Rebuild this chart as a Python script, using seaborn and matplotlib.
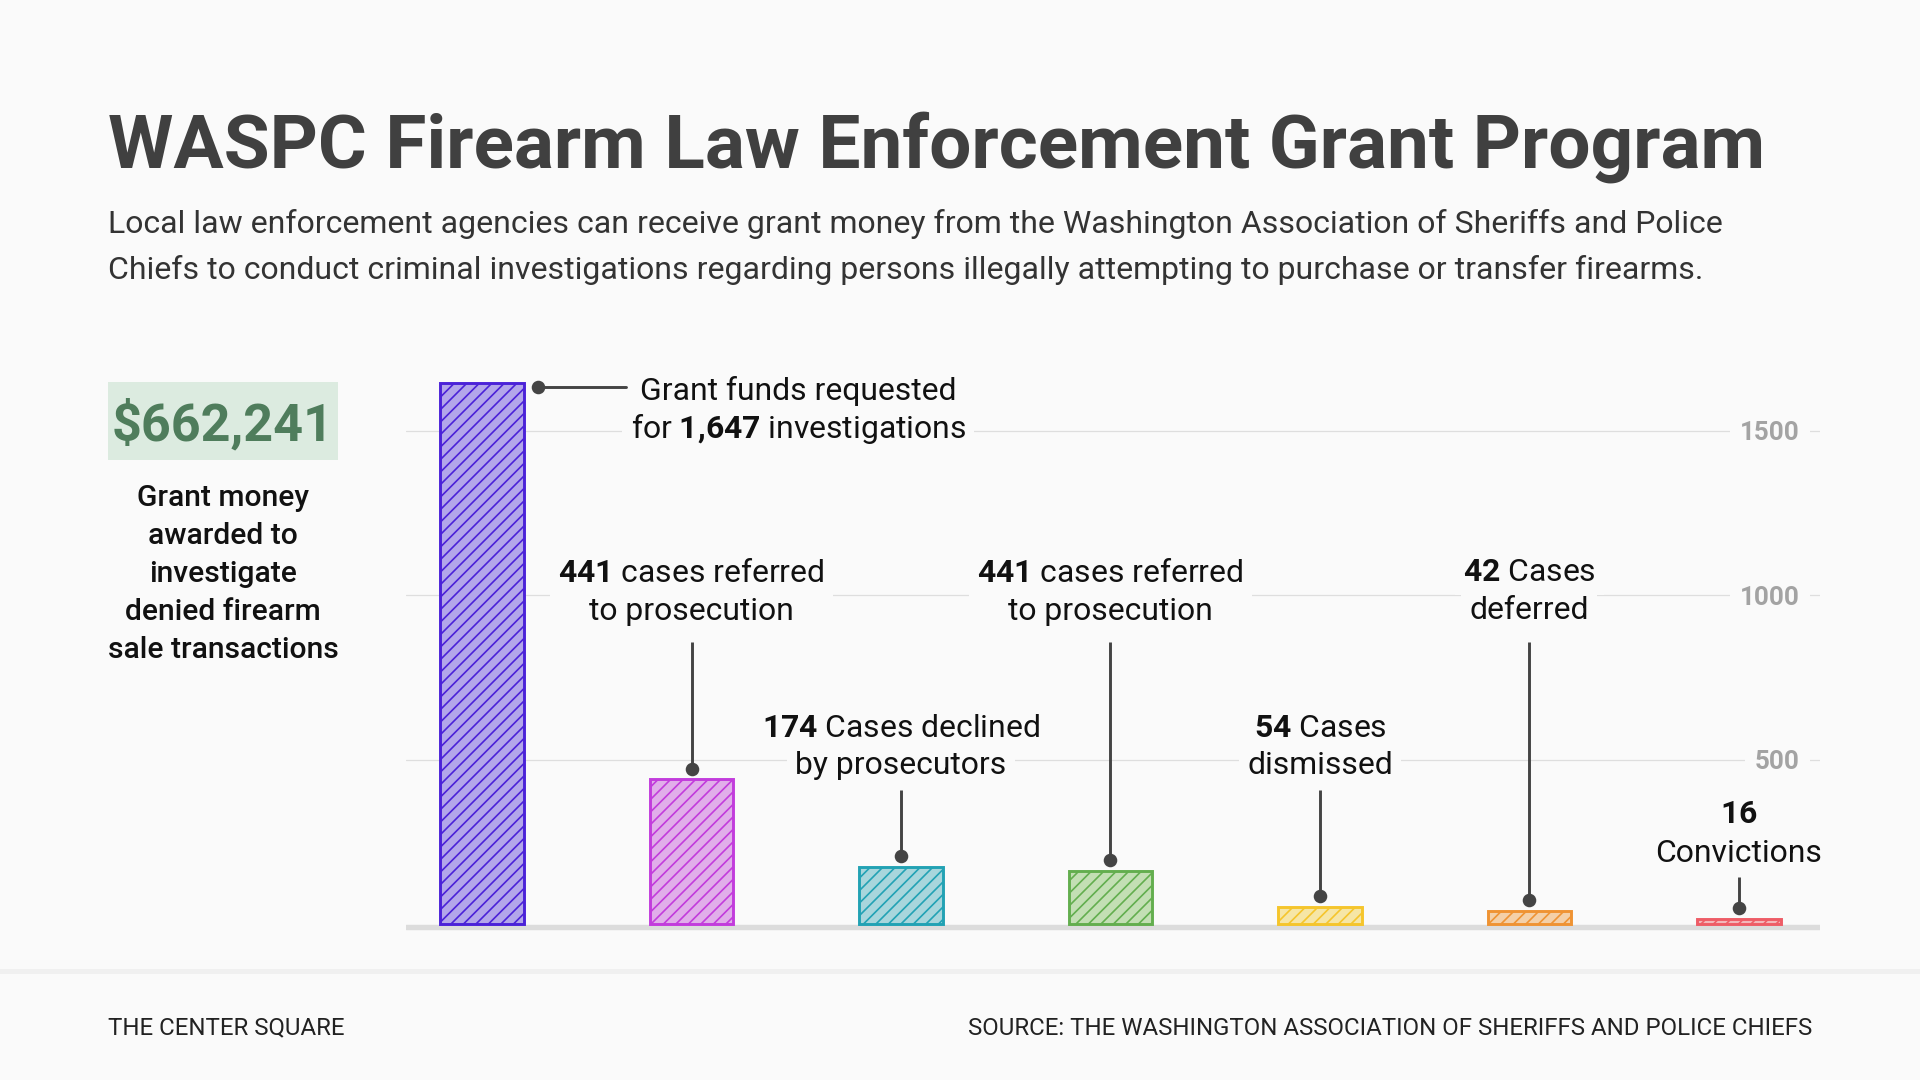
import matplotlib
matplotlib.use("Agg")
import matplotlib.pyplot as plt
from matplotlib.patches import Rectangle
import seaborn as sns

# data
stages = ["Investigations", "Referred", "Declined", "Referred again",
          "Dismissed", "Deferred", "Convictions"]
counts = [1647, 441, 174, 163, 54, 42, 16]

fills = ["#b3a6ea", "#e1aeea", "#a8d6dc", "#c3dfb4", "#f6e6a6", "#f4d0a8", "#f3b7ba"]
edges = ["#4b22d8", "#c23cdc", "#22a2b4", "#63ae4e", "#f5c52c", "#ef9333", "#ee5c66"]

label_top = ["Grant funds requested", r"$\mathbf{441}$ cases referred",
             r"$\mathbf{174}$ Cases declined", r"$\mathbf{441}$ cases referred",
             r"$\mathbf{54}$ Cases", r"$\mathbf{42}$ Cases", r"$\mathbf{16}$"]
label_bottom = [r"for $\mathbf{1{,}647}$ investigations", "to prosecution",
                "by prosecutors", "to prosecution", "dismissed", "deferred",
                "Convictions"]

yticks = [500, 1000, 1500]

# label placement (data units)
label_x = [1.51, 1, 2, 3, 4, 5, 6]
base_top = [1595, 1040, 571, 1040, 571, 1044, 307]
base_bottom = [1479, 925, 456, 925, 456, 928, 191]
leader_top = [None, 860, 409, 860, 409, 860, 145]

bg = "#fafafa"
ink = "#444444"

sns.set_theme(style="white")
plt.rcParams["font.family"] = ["Roboto", "DejaVu Sans"]
plt.rcParams["mathtext.fontset"] = "custom"
plt.rcParams["mathtext.rm"] = "Roboto"
plt.rcParams["mathtext.bf"] = "Roboto:bold"
plt.rcParams["hatch.linewidth"] = 0.8

fig = plt.figure(figsize=(12.8, 7.2), dpi=150, facecolor=bg)
ax = fig.add_axes([406 / 1920, 0.1379, 1414 / 1920, 0.5240])
ax.set_facecolor(bg)

sns.barplot(x=stages, y=counts, hue=stages, palette=fills, width=0.4,
            saturation=1, legend=False, ax=ax, zorder=3)
for cont, ec in zip(ax.containers, edges):
    for bar in cont:
        bar.set_edgecolor(ec)
        bar.set_linewidth(1.4)
        bar.set_hatch("////")

ax.set_xlim(-0.363, 6.387)
ax.set_ylim(-20, 1700)
ax.set_xticks([])
ax.set_yticks(yticks)
ax.set_xlabel("")
ax.set_ylabel("")
for s in ax.spines.values():
    s.set_visible(False)
ax.yaxis.grid(True, color="#dedede", lw=0.6)
ax.set_axisbelow(True)
ax.axhline(-9, color="#dcdcdc", lw=2.6, zorder=2)

ax.yaxis.tick_right()
ax.tick_params(axis="y", length=0, pad=-9.6, labelsize=12.5, labelcolor="#a3a3a3")
for lab in ax.get_yticklabels():
    lab.set_ha("right")
    lab.set_fontweight("bold")
    lab.set_bbox(dict(facecolor=bg, edgecolor="none", pad=5))

# leader lines
for i in range(1, len(counts)):
    ax.plot([i, i], [counts[i] + 33, leader_top[i]], color=ink, lw=1.4,
            zorder=4, solid_capstyle="butt")
    ax.plot(i, counts[i] + 33, "o", ms=5.5, color=ink, zorder=5)
ax.plot([0.265, 0.686], [counts[0] - 13, counts[0] - 13], color=ink, lw=1.4, zorder=4)
ax.plot(0.265, counts[0] - 13, "o", ms=5.5, color=ink, zorder=5)

for i in range(len(counts)):
    ax.text(label_x[i], base_bottom[i], label_bottom[i], ha="center", va="baseline",
            fontsize=15.3, color="#111111", zorder=6,
            bbox=dict(facecolor=bg, edgecolor="none", pad=4))
    ax.text(label_x[i], base_top[i], label_top[i], ha="center", va="baseline",
            fontsize=15.3, color="#111111", zorder=7,
            bbox=dict(facecolor=bg, edgecolor="none", pad=4))

# titles
fig.text(108 / 1920, 1 - 167.8 / 1080, "WASPC Firearm Law Enforcement Grant Program",
         fontsize=35.9, fontweight="bold", color="#404040", va="baseline")
fig.text(108 / 1920, 1 - 232.7 / 1080,
         "Local law enforcement agencies can receive grant money from the Washington "
         "Association of Sheriffs and Police",
         fontsize=15.35, color="#333333", va="baseline")
fig.text(108 / 1920, 1 - 279.2 / 1080,
         "Chiefs to conduct criminal investigations regarding persons illegally "
         "attempting to purchase or transfer firearms.",
         fontsize=15.35, color="#333333", va="baseline")

# grant money callout
fig.patches.append(Rectangle((108 / 1920, 1 - 460 / 1080), 230 / 1920, 78 / 1080,
                             transform=fig.transFigure, facecolor="#dcebe0",
                             edgecolor="none"))
fig.text(223 / 1920, 1 - 440.8 / 1080, "$662,241", fontsize=25, fontweight="bold",
         color="#4f7d5c", ha="center", va="baseline")
side = ["Grant money", "awarded to", "investigate", "denied firearm", "sale transactions"]
for k, line in enumerate(side):
    fig.text(223 / 1920, 1 - (505.7 + 38 * k) / 1080, line, fontsize=14.4,
             fontweight="medium", color="#111111", ha="center", va="baseline")

# footer
fig.patches.append(Rectangle((0, 1 - 973.5 / 1080), 1, 5 / 1080,
                             transform=fig.transFigure, facecolor="#f0f0f0",
                             edgecolor="none"))
fig.text(108 / 1920, 1 - 1034.7 / 1080, "THE CENTER SQUARE", fontsize=11.5,
         color="#222222", va="baseline")
fig.text(1812 / 1920, 1 - 1034.7 / 1080,
         "SOURCE: THE WASHINGTON ASSOCIATION OF SHERIFFS AND POLICE CHIEFS",
         fontsize=11.5, color="#222222", va="baseline", ha="right")

fig.savefig("out.png", dpi=150, facecolor=bg)
